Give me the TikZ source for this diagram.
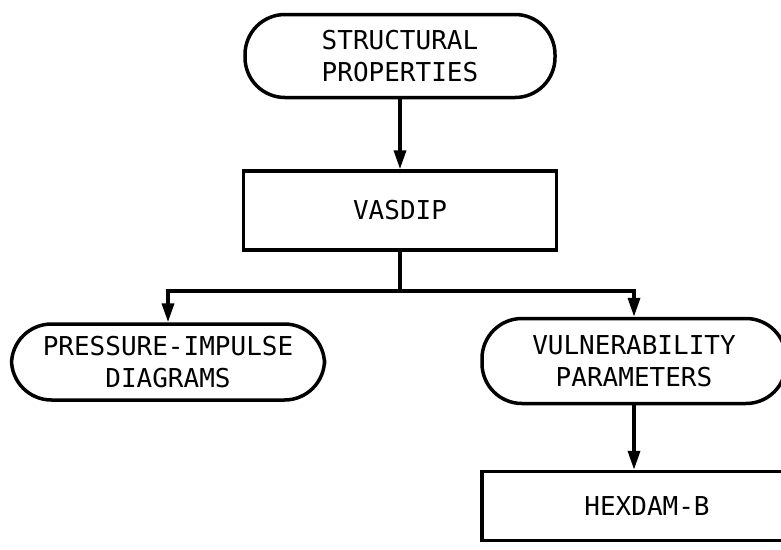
\documentclass[tikz,border=0pt]{standalone}
\usepackage{fontspec}
\newfontfamily\lettering{DejaVu Sans Mono}
\usepackage{tikz}
\usetikzlibrary{arrows.meta,positioning,calc}
\tikzset{
  term/.style={draw,line width=3.5pt,rounded corners=40pt,%
    font=\lettering\fontsize{26}{32}\selectfont,inner sep=4pt,align=center},
  proc/.style={draw,line width=3.5pt,%
    font=\lettering\fontsize{26}{32}\selectfont,inner sep=4pt,align=center},
  flow/.style={-{Triangle[length=19pt,width=12pt]},line width=3.5pt},
}
\begin{document}
\begin{tikzpicture}[x=1pt,y=1pt,node distance=70pt]
\useasboundingbox (0,0) rectangle (781,-549);
\node[term,minimum width=310pt,minimum height=83pt] (struct) at (400,-56) {STRUCTURAL\\PROPERTIES};
\node[proc,minimum width=313pt,minimum height=79pt,below=of struct] (vasdip) {VASDIP};
\coordinate[below=39pt of vasdip] (split);
\node[term,minimum width=313pt,minimum height=76pt] (pid) at (168,-362) {PRESSURE-IMPULSE\\DIAGRAMS};
\node[term,minimum width=304pt,minimum height=85pt] (vul) at (634,-361) {VULNERABILITY\\PARAMETERS};
\node[proc,minimum width=330pt,minimum height=69pt] (hex) at (647,-506) {HEXDAM-B};
\draw[flow] (struct) -- (vasdip);
\draw[line width=3.5pt] (vasdip) -- (split);
\draw[flow] (split) -| (pid);
\draw[flow] (split) -| (vul);
\draw[flow] (vul) -- (vul |- hex.north);
\end{tikzpicture}
\end{document}
